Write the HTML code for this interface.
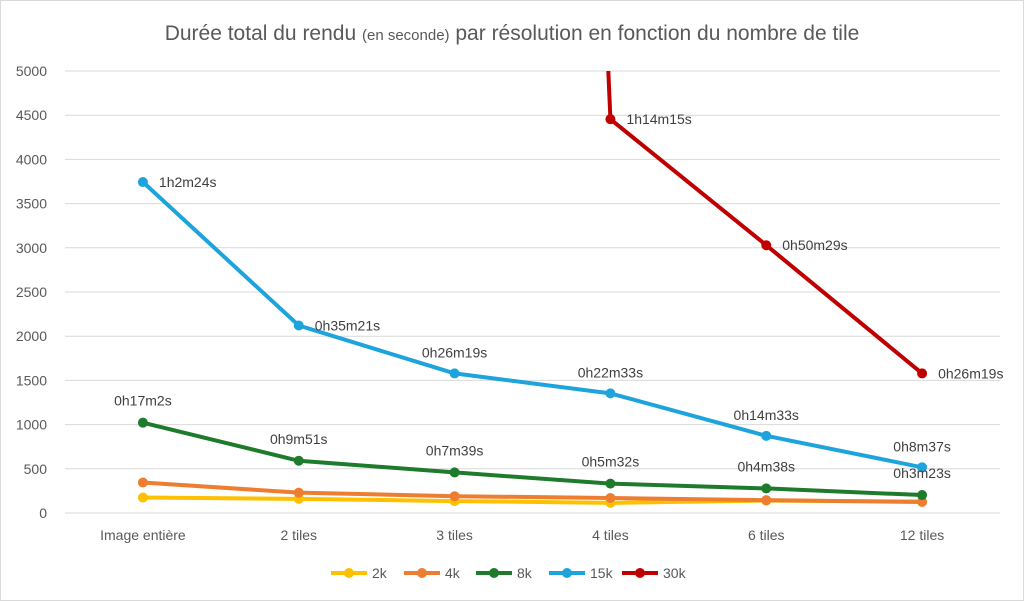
<!DOCTYPE html>
<html><head><meta charset="utf-8"><style>
body{margin:0;background:#fff;}
svg{display:block;font-family:"Liberation Sans",sans-serif;}
</style></head><body>
<svg id="chart" width="1024" height="601" viewBox="0 0 1024 601">
<rect x="0.5" y="0.5" width="1023" height="600" fill="#fff" stroke="#d9d9d9"/>
<text x="512" y="40" text-anchor="middle" font-size="21" fill="#595959">Durée total du rendu <tspan font-size="15">(en seconde)</tspan> par résolution en fonction du nombre de tile</text>
<g id="grid"></g><g id="axes"></g><g id="series"></g><g id="legend"></g>
</svg>
<script>
const categories=["Image entière","2 tiles","3 tiles","4 tiles","6 tiles","12 tiles"];
const yTicks=[0,500,1000,1500,2000,2500,3000,3500,4000,4500,5000];
const names=["2k","4k","8k","15k","30k"];
const colors=["#ffc000","#ed7d31","#1e7b2c","#1ea4dc","#c00000"];
const s2k=[175,160,135,115,140,130];
const s4k=[345,230,190,170,145,125];
const s8k=[1022,591,459,332,278,203];
const s15k=[3744,2121,1579,1353,873,517];
const s30k=[null,null,45000,4455,3029,1579];
const labels15k=["1h2m24s","0h35m21s","0h26m19s","0h22m33s","0h14m33s","0h8m37s"];
const labels8k=["0h17m2s","0h9m51s","0h7m39s","0h5m32s","0h4m38s","0h3m23s"];
const labels30k=[null,null,null,"1h14m15s","0h50m29s","0h26m19s"];
const NS="http://www.w3.org/2000/svg";
const X0=65,X1=1000,Y0=513,Y1=71,YMAX=5000;
const xs=i=>X0+(X1-X0)/categories.length*(i+0.5);
const ys=v=>Y0-(Y0-Y1)*v/YMAX;
function mk(t,a,p){const e=document.createElementNS(NS,t);for(const k in a)e.setAttribute(k,a[k]);p.appendChild(e);return e;}
const grid=document.getElementById('grid'),axes=document.getElementById('axes'),ser=document.getElementById('series'),leg=document.getElementById('legend');
const defs=mk('defs',{},document.getElementById('chart'));
const cp=mk('clipPath',{id:'pc'},defs);mk('rect',{x:0,y:Y1,width:1024,height:Y0-Y1+20},cp);
yTicks.forEach(v=>{
 const l=mk('line',{x1:X0,x2:X1,y1:ys(v),y2:ys(v),stroke:'#d9d9d9','stroke-width':1},grid);
 
 
 const t=mk('text',{x:47,y:ys(v)+5,'text-anchor':'end','font-size':14,fill:'#595959'},axes);
 t.textContent=v;
 
 
});
categories.forEach((c,i)=>{
 const t=mk('text',{x:xs(i),y:540,'text-anchor':'middle','font-size':14,fill:'#595959'},axes);
 t.textContent=c;
 
 
});
const all=[s2k,s4k,s8k,s15k,s30k];
all.forEach((s,k)=>{
 const g=mk('g',{'clip-path':'url(#pc)'},ser);
 
 
 let d='';s.forEach((v,i)=>{if(v==null)return;d+=(d?'L':'M')+xs(i)+','+ys(v);});
 const p=mk('path',{d:d,fill:'none',stroke:colors[k],'stroke-width':4,'stroke-linejoin':'round'},g);
 
 
 s.forEach((v,i)=>{if(v==null||v>YMAX)return;
  const c=mk('circle',{cx:xs(i),cy:ys(v),r:5,fill:colors[k]},g);
  
  });
});
function lab(arr,s,dx,dy,anchor){arr.forEach((t,i)=>{if(!t)return;
 const e=mk('text',{x:xs(i)+dx,y:ys(s[i])+dy,'text-anchor':anchor,'font-size':14,fill:'#404040'},ser);
 e.textContent=t;
 
 });}
// 15k labels: first two right, rest above
labels15k.forEach((t,i)=>{
 const right=i<2;
 const e=mk('text',{x:xs(i)+(right?16:0),y:ys(s15k[i])+(right?5:-16),'text-anchor':right?'start':'middle','font-size':14,fill:'#404040'},ser);
 e.textContent=t;
 
 
});
lab(labels8k,s8k,0,-17,'middle');
lab(labels30k,s30k,16,5,'start');
const lx=[331,404,476,549,622];
names.forEach((n,k)=>{
 const g=mk('g',{},leg);
 
 
 mk('line',{x1:lx[k],x2:lx[k]+36,y1:573,y2:573,stroke:colors[k],'stroke-width':4},g);
 mk('circle',{cx:lx[k]+18,cy:573,r:5,fill:colors[k]},g);
 const t=mk('text',{x:lx[k]+41,y:578,'font-size':14,fill:'#595959'},g);t.textContent=n;
});
</script>
</body></html>
